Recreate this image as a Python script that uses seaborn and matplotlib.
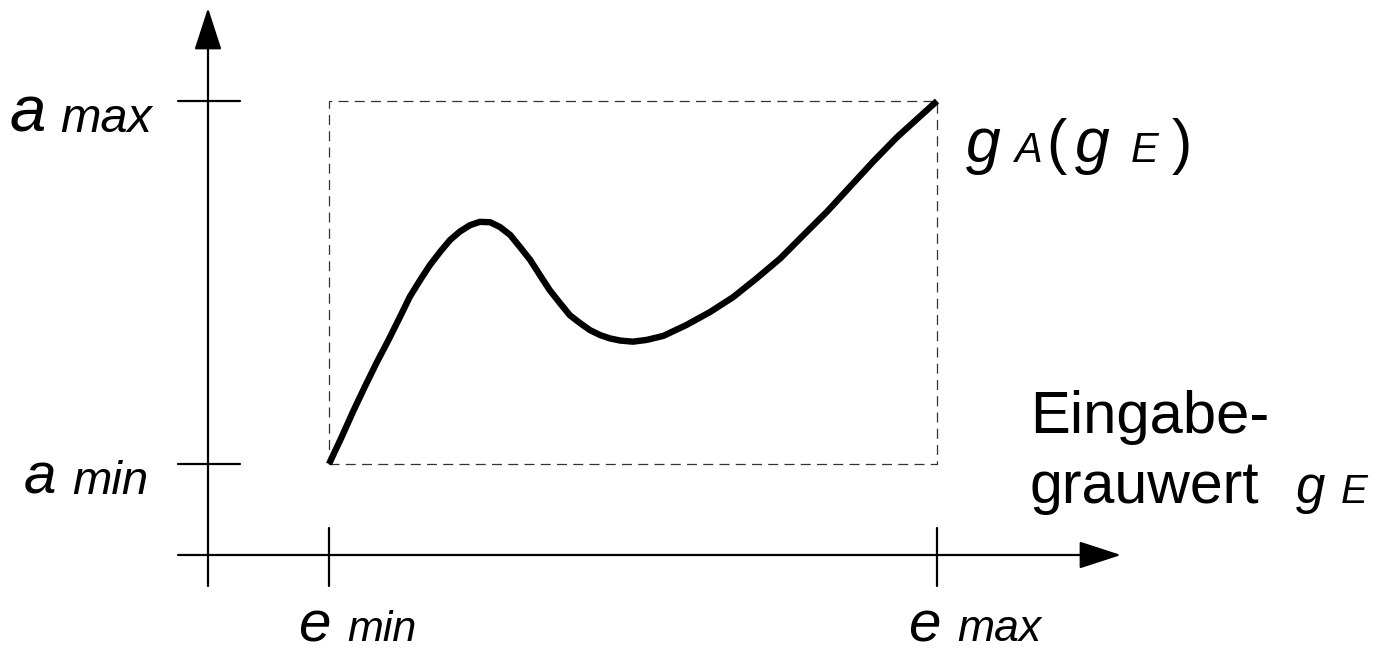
import numpy as np
import pandas as pd
import seaborn as sns
import matplotlib.pyplot as plt

# ---------------------------------------------------
# Data: Grauwert-Transformation g_A(g_E)
# normalised: e_min/a_min = 0, e_max/a_max = 1
# ---------------------------------------------------

curve_x = [0.000, 0.021, 0.040, 0.059, 0.078, 0.098, 0.117, 0.133, 0.150, 0.166,
           0.183, 0.199, 0.215, 0.232, 0.248, 0.265, 0.281, 0.298, 0.314, 0.331,
           0.347, 0.363, 0.380, 0.396, 0.413, 0.429, 0.446, 0.462, 0.479, 0.500,
           0.523, 0.550, 0.588, 0.627, 0.665, 0.703, 0.742, 0.780, 0.819, 0.857,
           0.895, 0.934, 0.967, 1.000]
curve_y = [0.000, 0.075, 0.146, 0.213, 0.278, 0.342, 0.406, 0.461, 0.507, 0.548,
           0.585, 0.617, 0.640, 0.658, 0.667, 0.666, 0.653, 0.631, 0.598, 0.562,
           0.520, 0.479, 0.443, 0.410, 0.388, 0.369, 0.355, 0.346, 0.340, 0.337,
           0.342, 0.353, 0.383, 0.419, 0.460, 0.511, 0.566, 0.630, 0.695, 0.764,
           0.833, 0.900, 0.950, 1.000]

e_limits = [0.0, 1.0]   # e_min, e_max
a_limits = [0.0, 1.0]   # a_min, a_max

# ---------------------------------------------------
# Layout helpers (image pixels -> data units)
# ---------------------------------------------------

X0, XS = 329, 608     # pixel of e_min, pixels per unit
Y0, YS = 464, 363     # pixel of a_min, pixels per unit


def px(x, y):
    return (x - X0) / XS, (Y0 - y) / YS


sns.set_style("white")
plt.rcParams["font.family"] = ["Liberation Sans", "DejaVu Sans"]

fig = plt.figure(figsize=(13.85, 6.51), dpi=100)
ax = fig.add_axes([0, 0, 1, 1])
ax.set_xlim(px(0, 0)[0], px(1385, 0)[0])
ax.set_ylim(px(0, 651)[1], px(0, 0)[1])
ax.axis("off")

# ---------------------------------------------------
# Axes with arrows
# ---------------------------------------------------

axis_x = px(208, 0)[0]
axis_y = px(0, 555)[1]
arrow = dict(arrowstyle="-|>,head_length=0.4,head_width=0.13",
             mutation_scale=66, lw=1.6, color="black", shrinkA=0, shrinkB=0)

ax.annotate("", xy=(axis_x, px(0, 8)[1]), xytext=(axis_x, px(0, 586)[1]), arrowprops=arrow)
ax.annotate("", xy=(px(1121, 0)[0], axis_y), xytext=(px(178, 0)[0], axis_y), arrowprops=arrow)

# tick marks
tick_left, tick_right = px(178, 0)[0], px(240, 0)[0]
for a in a_limits:
    ax.plot([tick_left, tick_right], [a, a], color="black", lw=1.6)

tick_top, tick_bottom = px(0, 528)[1], px(0, 586)[1]
for e in e_limits:
    ax.plot([e, e], [tick_top, tick_bottom], color="black", lw=1.6)

# ---------------------------------------------------
# Dashed frame and curve
# ---------------------------------------------------

frame = pd.DataFrame({
    "x": [e_limits[0], e_limits[1], e_limits[1], e_limits[0], e_limits[0]],
    "y": [a_limits[0], a_limits[0], a_limits[1], a_limits[1], a_limits[0]],
})
ax.plot(frame["x"], frame["y"], color="#333333", lw=0.9, dashes=(8, 5))

df = pd.DataFrame({"g_E": curve_x, "g_A": curve_y})
sns.lineplot(data=df, x="g_E", y="g_A", sort=False, color="black", lw=4.6, ax=ax,
             solid_joinstyle="round", solid_capstyle="butt")
ax.set_xlabel("")
ax.set_ylabel("")

# ---------------------------------------------------
# Labels
# ---------------------------------------------------


def label(x, y, s, size, italic=True):
    ax.text(*px(x, y), s, fontsize=size, ha="left", va="baseline",
            style="italic" if italic else "normal", color="black")


label(10, 132, "a", 47)
label(60, 132, "max", 35)
label(24, 494, "a", 42)
label(72, 494, "min", 34)
label(298, 641, "e", 42)
label(347, 641, "min", 31)
label(908, 641, "e", 42)
label(957, 641, "max", 32)

label(966, 162, "g", 45)
label(1014, 162, "A", 30)
label(1046, 162, "(", 44, italic=False)
label(1075, 162, "g", 45)
label(1131, 162, "E", 30)
label(1172, 162, ")", 44, italic=False)

label(1030, 433, "Eingabe-", 43, italic=False)
label(1030, 503, "grauwert", 42.5, italic=False)
label(1296, 503, "g", 38)
label(1341, 503, "E", 29)

plt.savefig("out.png", dpi=100)
